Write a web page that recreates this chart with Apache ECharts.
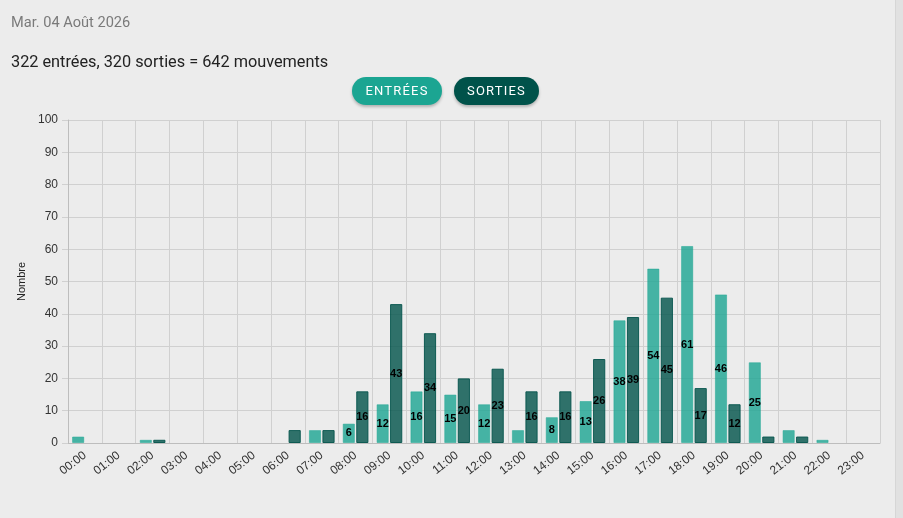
<!DOCTYPE html>
<html>
<head>
<meta charset="utf-8">
<script src="https://cdn.jsdelivr.net/npm/echarts@6/dist/echarts.min.js"></script>
<style>
  html, body { margin: 0; padding: 0; background: #ececec; width: 903px; height: 518px; overflow: hidden; }
  #chart { position: absolute; left: 0; top: 0; width: 903px; height: 518px; }
  .date { position: absolute; left: 11px; top: 13px; font: 14.6px Roboto, sans-serif; color: #7a7a7a; }
  .total { position: absolute; left: 11px; top: 52px; font: 16.3px Roboto, sans-serif; color: #222; }
  .btn { position: absolute; top: 77px; height: 28px; border-radius: 14px; color: #fff;
         font: 13px Roboto, sans-serif; line-height: 28px; letter-spacing: 1.2px; text-align: center;
         box-shadow: 0 2px 3px rgba(0,0,0,0.25); }
  .btn.in { left: 352px; width: 90px; background: #1ba592; }
  .btn.out { left: 454px; width: 85px; background: #00524a; }
  .scroll { position: absolute; right: 0; top: 0; width: 7px; height: 518px; background: #e1e1e1; border-left: 1px solid #d6d6d6; }
</style>
</head>
<body>
<div id="chart"></div>
<div class="date">Mar. 04 Août 2026</div>
<div class="total">322 entrées, 320 sorties = 642 mouvements</div>
<div class="btn in">ENTRÉES</div>
<div class="btn out">SORTIES</div>
<div class="scroll"></div>
<script>
var hours = ['00:00', '01:00', '02:00', '03:00', '04:00', '05:00', '06:00', '07:00', '08:00', '09:00', '10:00', '11:00',
  '12:00', '13:00', '14:00', '15:00', '16:00', '17:00', '18:00', '19:00', '20:00', '21:00', '22:00', '23:00']
var entrees = [2, 0, 1, 0, 0, 0, 0, 4, 6, 12, 16, 15, 12, 4, 8, 13, 38, 54, 61, 46, 25, 4, 1, 0]
var sorties = [0, 0, 1, 0, 0, 0, 4, 4, 16, 43, 34, 20, 23, 16, 16, 26, 39, 45, 17, 12, 2, 2, 0, 0]

var myChart = echarts.init(document.getElementById('chart'))

function barSerie(name, data, color, border) {
  return {
    name: name,
    type: 'bar',
    // empty hours get no bar at all (otherwise the border shows as a line)
    data: data.map(function (v) { return v === 0 ? '-' : v }),
    barWidth: '36%',
    barGap: '11%',
    itemStyle: { color: color, borderColor: border, borderWidth: 1 },
    label: {
      show: true,
      position: 'inside',
      color: '#000',
      fontWeight: 'bold',
      fontSize: 11,
      fontFamily: 'Liberation Sans, Arial, sans-serif',
      formatter: function (p) { return p.value > 4 ? p.value : '' }
    }
  }
}

var options = {
  animation: false,
  textStyle: { fontFamily: 'Liberation Sans, Arial, sans-serif' },
  grid: { left: 68, right: 23, top: 120, bottom: 75 },
  xAxis: {
    type: 'category',
    data: hours,
    axisLine: { lineStyle: { color: '#bdbdbd' } },
    axisTick: { length: 5, lineStyle: { color: '#c4c4c4' } },
    axisLabel: { rotate: 38, color: '#333', fontSize: 12, margin: 11 },
    splitLine: { show: true, lineStyle: { color: '#d0d0d0' } }
  },
  yAxis: {
    type: 'value',
    min: 0,
    max: 100,
    interval: 10,
    name: 'Nombre',
    nameLocation: 'middle',
    nameGap: 40,
    nameTextStyle: { color: '#222', fontSize: 11 },
    axisLine: { show: true, lineStyle: { color: '#bdbdbd' } },
    axisTick: { show: true, length: 6, lineStyle: { color: '#d0d0d0' } },
    axisLabel: { color: '#333', fontSize: 12, margin: 10 },
    splitLine: { lineStyle: { color: '#d0d0d0' } }
  },
  series: [
    barSerie('Entrées', entrees, 'rgba(27,165,146,0.8)', 'rgba(27,165,146,0.5)'),
    barSerie('Sorties', sorties, 'rgba(0,82,74,0.8)', 'rgba(0,82,74,0.9)')
  ]
}

myChart.setOption(options)
</script>
</body>
</html>
